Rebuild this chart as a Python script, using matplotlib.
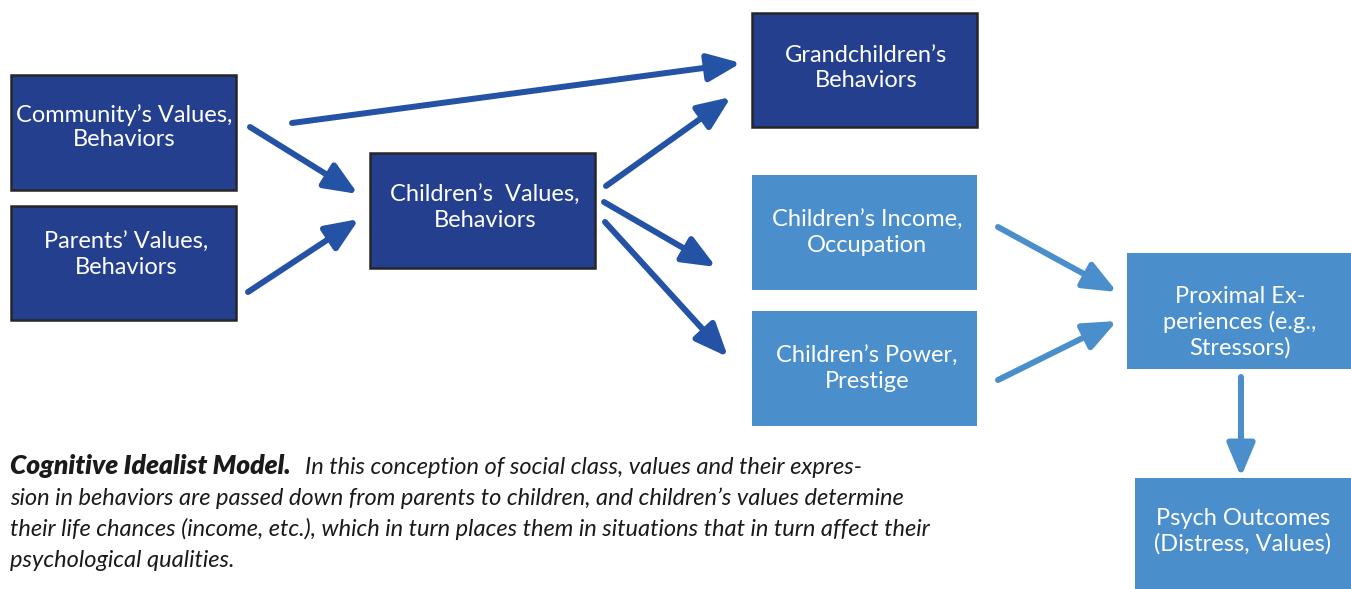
import matplotlib
matplotlib.use("Agg")
import matplotlib.pyplot as plt
from matplotlib.patches import Rectangle

plt.rcParams["font.family"] = ["Lato", "DejaVu Sans"]

# ------------------------------------------------------------------
# diagram content
# ------------------------------------------------------------------
node_names = ["community", "parents", "children", "grandchildren",
              "income", "power", "proximal", "psych"]
node_labels = ["Community\u2019s Values,\nBehaviors",
               "Parents\u2019 Values,\nBehaviors",
               "Children\u2019s  Values,\nBehaviors",
               "Grandchildren\u2019s\nBehaviors",
               "Children\u2019s Income,\nOccupation",
               "Children\u2019s Power,\nPrestige",
               "Proximal Ex-\nperiences (e.g.,\nStressors)",
               "Psych Outcomes\n(Distress, Values)"]
node_kind = ["dark", "dark", "dark", "dark", "light", "light", "light", "light"]

edges = [("community", "grandchildren"), ("community", "children"),
         ("parents", "children"), ("children", "grandchildren"),
         ("children", "income"), ("children", "power"),
         ("income", "proximal"), ("power", "proximal"),
         ("proximal", "psych")]

caption_title = "Cognitive Idealist Model."
caption_lines = ["In this conception of social class, values and their expres-",
                 "sion in behaviors are passed down from parents to children, and children\u2019s values determine",
                 "their life chances (income, etc.), which in turn places them in situations that in turn affect their",
                 "psychological qualities."]

# ------------------------------------------------------------------
# layout (pixel space, y down)
# ------------------------------------------------------------------
W, H = 1351, 589
box_xywh = {
    "community":     (11, 75, 225, 115),
    "parents":       (11, 206, 225, 114),
    "children":      (370, 153, 225, 115),
    "grandchildren": (752, 13, 225, 114),
    "income":        (752, 175, 225, 115),
    "power":         (752, 311, 225, 115),
    "proximal":      (1127, 253, 230, 116),
    "psych":         (1135, 478, 222, 120),
}
text_center = {
    "community": (124, 127), "parents": (126, 255), "children": (485, 208),
    "grandchildren": (866, 68), "income": (867, 233), "power": (867, 369),
    "proximal": (1240, 322), "psych": (1243, 531),
}
edge_ends = {
    ("community", "grandchildren"): ((292, 123), (741, 63)),
    ("community", "children"):      ((250, 127), (358, 194)),
    ("parents", "children"):        ((248, 292), (359, 219)),
    ("children", "grandchildren"):  ((606, 186), (731, 97)),
    ("children", "income"):         ((604, 202), (716, 267)),
    ("children", "power"):          ((605, 222), (728, 357)),
    ("income", "proximal"):         ((998, 227), (1117, 292)),
    ("power", "proximal"):          ((998, 380), (1117, 321)),
    ("proximal", "psych"):          ((1241, 377), (1241, 477)),
}

DARK_FILL = "#243F8E"
LIGHT_FILL = "#4B8ECC"
DARK_ARROW = "#2452A5"

fig = plt.figure(figsize=(W / 100, H / 100), dpi=100)
ax = fig.add_axes([0, 0, 1, 1])
ax.set_xlim(0, W)
ax.set_ylim(H, 0)
ax.axis("off")

for name, label, kind in zip(node_names, node_labels, node_kind):
    x, y, w, h = box_xywh[name]
    if kind == "dark":
        ax.add_patch(Rectangle((x, y), w, h, facecolor=DARK_FILL,
                               edgecolor="#262626", linewidth=1.8, zorder=2))
    else:
        ax.add_patch(Rectangle((x, y), w, h, facecolor=LIGHT_FILL,
                               edgecolor="none", zorder=2))
    cx, cy = text_center[name]
    ax.text(cx, cy, label, color="white", fontsize=17, ha="center",
            va="center", linespacing=1.22, zorder=3)

for src, dst in edges:
    (x0, y0), (x1, y1) = edge_ends[(src, dst)]
    col = LIGHT_FILL if src in ("income", "power", "proximal") else DARK_ARROW
    ax.annotate("", xy=(x1, y1), xytext=(x0, y0),
                arrowprops=dict(arrowstyle="-|>,head_length=1.0,head_width=0.42",
                                color=col, lw=4.3, mutation_scale=20,
                                shrinkA=0, shrinkB=0), zorder=4)

# caption
cap_kw = dict(style="italic", color="#1a1a1a", va="baseline", ha="left")
t = ax.text(10, 474, caption_title, fontweight="heavy", fontsize=19, **cap_kw)
fig.canvas.draw()
bb = t.get_window_extent(renderer=fig.canvas.get_renderer())
x_after = ax.transData.inverted().transform((bb.x1, bb.y0))[0] + 14
ax.text(x_after, 474, caption_lines[0], fontsize=17, **cap_kw)
for i, line in enumerate(caption_lines[1:]):
    ax.text(10, 474 + 31 * (i + 1), line, fontsize=17, **cap_kw)

fig.savefig("out.png", dpi=100)
